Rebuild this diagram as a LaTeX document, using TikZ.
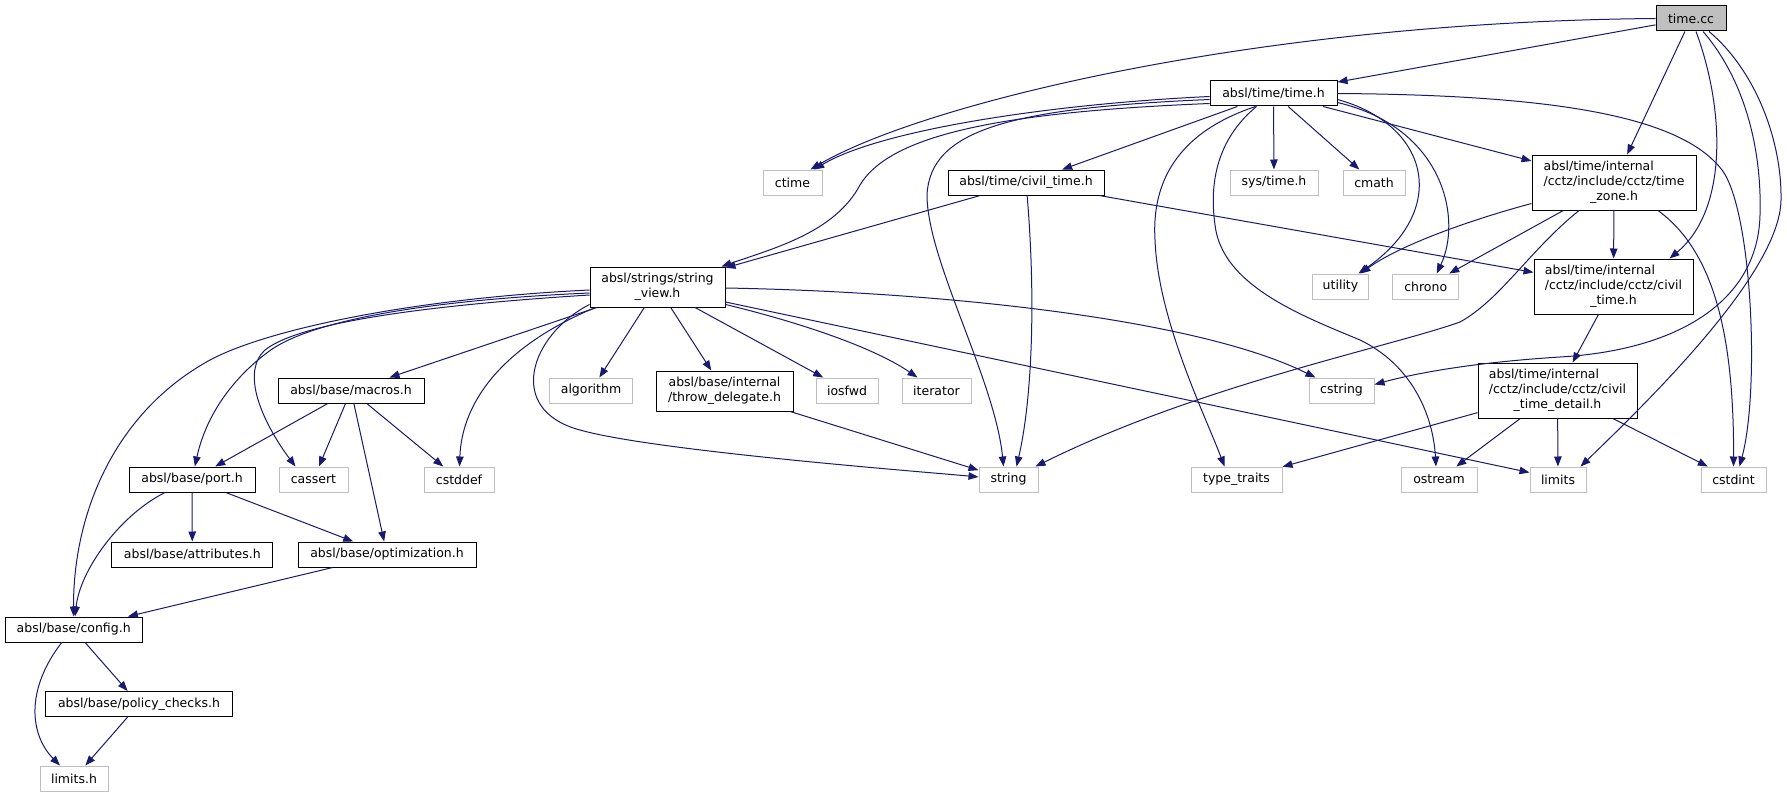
\documentclass[tikz,border=0pt]{standalone}
\usepackage{fontspec}
\setmainfont{DejaVu Sans}
\usetikzlibrary{arrows.meta,calc}
\definecolor{edgec}{HTML}{191970}
\definecolor{extc}{HTML}{BFBFBF}
\tikzset{
  nd/.style={draw=black, line width=1pt, fill=white, inner sep=0pt, minimum height=25pt,
    font=\fontsize{12.5}{15}\selectfont, align=center},
  ext/.style={nd, draw=extc},
  dep/.style={draw=edgec, line width=1pt, -{Triangle[length=10pt,width=7.5pt]}}
}
\begin{document}
\begin{tikzpicture}[x=1pt,y=-1pt]
\useasboundingbox (0,0) rectangle (1787,797);
\fill[white] (0,0) rectangle (1787,797);
% nodes
\node[nd, fill=extc, minimum width=70] (timecc) at (1691,18.5) {time.cc};
\node[nd, minimum width=127] (timeh) at (1273.5,93.5) {absl/time/time.h};
\node[ext, minimum width=59] (ctime) at (792.5,182.5) {ctime};
\node[nd, minimum width=156] (civiltimeh) at (1026,182.5) {absl/time/civil\_time.h};
\node[ext, minimum width=88] (systime) at (1274,182.5) {sys/time.h};
\node[ext, minimum width=62] (cmath) at (1374,182.5) {cmath};
\node[nd, minimum width=164, minimum height=55] (timezone) at (1614,182.5)
  {\rlap{absl/time/internal}\phantom{/cctz/include/cctz/time}\\/cctz/include/cctz/time\\\_zone.h};
\node[nd, minimum width=135, minimum height=40] (stringview) at (657.5,287) {absl/strings/string\\\_view.h};
\node[ext, minimum width=56] (utility) at (1340.5,286.5) {utility};
\node[ext, minimum width=66] (chrono) at (1425.7,286.5) {chrono};
\node[nd, minimum width=159, minimum height=55] (cctzcivil) at (1613.5,286.5)
  {\rlap{absl/time/internal}\phantom{/cctz/include/cctz/civil}\\/cctz/include/cctz/civil\\\_time.h};
\node[nd, minimum width=146] (macros) at (351,390.5) {absl/base/macros.h};
\node[ext, minimum width=83] (algorithm) at (591,390.5) {algorithm};
\node[nd, minimum width=137, minimum height=40] (throwdel) at (724.5,391) {absl/base/internal\\/throw\_delegate.h};
\node[ext, minimum width=62] (iosfwd) at (847,390.5) {iosfwd};
\node[ext, minimum width=69] (iterator) at (936.5,390.5) {iterator};
\node[ext, minimum width=65] (cstring) at (1341.5,390.5) {cstring};
\node[nd, minimum width=159, minimum height=55] (detail) at (1557.5,390.5)
  {\rlap{absl/time/internal}\phantom{/cctz/include/cctz/civil}\\/cctz/include/cctz/civil\\\_time\_detail.h};
\node[nd, minimum width=126] (port) at (192,479.5) {absl/base/port.h};
\node[ext, minimum width=69] (cassert) at (313.5,479.5) {cassert};
\node[ext, minimum width=70] (cstddef) at (459,479.5) {cstddef};
\node[ext, minimum width=59] (string) at (1008.5,479.5) {string};
\node[ext, minimum width=91] (typetraits) at (1236.5,479.5) {type\_traits};
\node[ext, minimum width=76] (ostream) at (1439,479.5) {ostream};
\node[ext, minimum width=56] (limits) at (1558,479.5) {limits};
\node[ext, minimum width=65] (cstdint) at (1733.5,479.5) {cstdint};
\node[nd, minimum width=161] (attributes) at (192.3,554.5) {absl/base/attributes.h};
\node[nd, minimum width=178] (optimization) at (387,554.5) {absl/base/optimization.h};
\node[nd, minimum width=137] (config) at (73.7,629.5) {absl/base/config.h};
\node[nd, minimum width=187] (policy) at (139,704) {absl/base/policy\_checks.h};
\node[ext, minimum width=68] (limitsh) at (74,778.5) {limits.h};
% time.cc
\draw[dep] (timecc) -- (timeh);
\draw[dep] (timecc.west) .. controls (1250,22) and (920,105) .. ($(ctime.north east)+(-12,0)$);
\draw[dep] (timecc) -- (timezone);
\draw[dep] ($(timecc.south)+(5,0)$) .. controls (1725,110) and (1728,210) .. ($(cctzcivil.north east)+(-24,0)$);
\draw[dep] ($(timecc.south)+(12,0)$) .. controls (1745,80) and (1762,150) .. (1760,215)
  .. controls (1758,300) and (1680,350) .. (1560,357) .. controls (1480,362) and (1420,372) .. ($(cstring.east)+(0,-6)$);
\draw[dep] ($(timecc.south)+(18,0)$) .. controls (1755,70) and (1782,140) .. (1781,200)
  .. controls (1780,270) and (1660,390) .. ($(limits.north east)+(-6,0)$);
% time.h
\draw[dep] (timeh) .. controls (1050,104) and (880,130) .. (ctime);
\draw[dep] ($(timeh.west)+(0,10)$) .. controls (1000,112) and (890,135) .. (860,185)
  .. controls (835,232) and (775,248) .. ($(stringview.north east)+(-4,0)$);
\draw[dep] ($(timeh.west)+(0,6)$) .. controls (1010,108) and (930,130) .. (927,195)
  .. controls (927,260) and (995,380) .. ($(string.north)+(-5,0)$);
\draw[dep] (timeh) -- (civiltimeh);
\draw[dep] (timeh) -- (systime);
\draw[dep] (timeh) -- (cmath);
\draw[dep] (timeh) -- (timezone);
\draw[dep] ($(timeh.south)+(-18,0)$) .. controls (1170,135) and (1152,190) .. (1155,240)
  .. controls (1158,320) and (1205,415) .. ($(typetraits.north)+(-12,0)$);
\draw[dep] ($(timeh.south)+(-17,0)$) .. controls (1222,135) and (1208,175) .. (1215,225)
  .. controls (1222,285) and (1300,315) .. (1360,340) .. controls (1412,365) and (1433,415) .. ($(ostream.north)+(-3,0)$);
\draw[dep] ($(timeh.east)+(0,6)$) .. controls (1430,125) and (1450,210) .. ($(utility.north)+(18,0)$);
\draw[dep] ($(timeh.east)+(0,9)$) .. controls (1445,128) and (1462,220) .. ($(chrono.north)+(11,0)$);
\draw[dep] (timeh.east) .. controls (1550,95) and (1680,115) .. (1722,170)
  .. controls (1752,210) and (1760,390) .. ($(cstdint.north)+(6,0)$);
% civil_time.h
\draw[dep] (civiltimeh) -- (stringview);
\draw[dep] (civiltimeh) .. controls (1036,300) and (1032,400) .. ($(string.north)+(8,0)$);
\draw[dep] (civiltimeh) -- (cctzcivil);
% time_zone.h
\draw[dep] (timezone) -- (cctzcivil);
\draw[dep] ($(timezone.south west)+(0,-7)$) .. controls (1470,220) and (1400,245) .. ($(utility.north)+(20,0)$);
\draw[dep] (timezone) -- (chrono);
\draw[dep] ($(timezone.south)+(-35,0)$) .. controls (1530,250) and (1500,300) .. (1460,322)
  .. controls (1390,347) and (1200,385) .. ($(string.north east)+(-3,0)$);
\draw[dep] ($(timezone.south)+(44,0)$) .. controls (1712,250) and (1734,330) .. (cstdint);
% cctz civil_time.h
\draw[dep] (cctzcivil) -- (detail);
% civil_time_detail.h
\draw[dep] (detail) -- (typetraits);
\draw[dep] (detail) -- (ostream);
\draw[dep] (detail) -- (limits);
\draw[dep] (detail) -- (cstdint);
% string_view.h
\draw[dep] (stringview) -- (macros);
\draw[dep] (stringview) -- (algorithm);
\draw[dep] (stringview) -- (throwdel);
\draw[dep] (stringview) -- (iosfwd);
\draw[dep] ($(stringview.south east)+(0,-3)$) .. controls (790,320) and (870,345) .. (iterator);
\draw[dep] ($(stringview.east)+(0,1)$) .. controls (950,292) and (1200,320) .. (cstring);
\draw[dep] ($(stringview.east)+(0,15)$) -- ($(limits.west)+(0,-7)$);
\draw[dep] ($(stringview.south west)+(0,-3)$) .. controls (530,335) and (505,410) .. (580,430)
  .. controls (650,450) and (900,470) .. (string);
\draw[dep] ($(stringview.south west)+(6,0)$) .. controls (505,345) and (462,400) .. (cstddef);
\draw[dep] ($(stringview.west)+(0,8)$) .. controls (430,305) and (300,322) .. (265,350)
  .. controls (238,375) and (268,430) .. ($(cassert.north)+(-18,0)$);
\draw[dep] ($(stringview.west)+(0,6)$) .. controls (430,300) and (310,320) .. (268,352)
  .. controls (228,382) and (205,420) .. (port);
\draw[dep] ($(stringview.west)+(0,3)$) .. controls (420,298) and (270,328) .. (210,360)
  .. controls (110,415) and (73,520) .. (config);
% macros.h
\draw[dep] (macros) -- (port);
\draw[dep] (macros) -- (cassert);
\draw[dep] (macros) -- (optimization);
\draw[dep] (macros) -- (cstddef);
% port.h
\draw[dep] ($(port.south)+(-27,0)$) .. controls (120,515) and (80,570) .. (config);
\draw[dep] (port) -- (attributes);
\draw[dep] (port) -- (optimization);
% others
\draw[dep] (optimization) -- (config);
\draw[dep] (config) -- (policy);
\draw[dep] ($(config.south)+(-12,0)$) .. controls (25,690) and (30,735) .. ($(limitsh.north)+(-14,0)$);
\draw[dep] (policy) -- (limitsh);
\draw[dep] (throwdel) -- (string);
\end{tikzpicture}
\end{document}
